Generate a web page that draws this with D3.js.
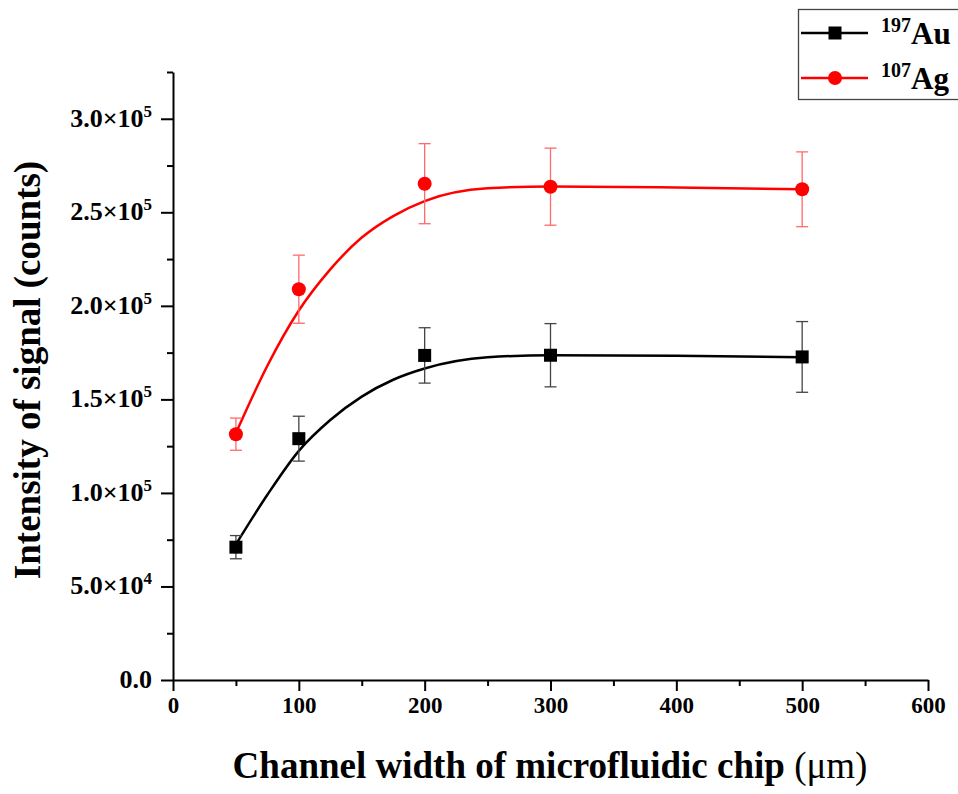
<!DOCTYPE html>
<html>
<head>
<meta charset="utf-8">
<script src="https://cdn.jsdelivr.net/npm/d3@7"></script>
<style>
  body { margin: 0; background: #fff; }
  text { font-family: "Liberation Serif", "Times New Roman", serif; }
</style>
</head>
<body>
<script>
// measured points
const widths = [50, 100, 200, 300, 500];
const auMean = [71000, 129000, 173500, 173600, 172700];
const auErr  = [6200, 12000, 14800, 16900, 18900];
const agMean = [131400, 208900, 265300, 263700, 262300];
const agErr  = [8600, 18200, 21400, 20600, 20000];

// fitted curves
const fitX  = [50, 75, 100, 125, 150, 175, 200, 250, 300, 400, 500];
const auFit = [72500, 99000, 122500, 139000, 151500, 160500, 166500, 172500, 173600, 173300, 172500];
const agFit = [132000, 168000, 197500, 219500, 236500, 248000, 256000, 262800, 263800, 263300, 262300];

const xTicks = [0, 100, 200, 300, 400, 500, 600];
const xMinor = [50, 150, 250, 350, 450, 550];
const yTicks = [0, 50000, 100000, 150000, 200000, 250000, 300000];
const yMinor = [25000, 75000, 125000, 175000, 225000, 275000, 325000];

const width = 958, height = 794;

const svg = d3.select("body")
  .append("svg")
  .attr("xmlns", "http://www.w3.org/2000/svg")
  .attr("width", width)
  .attr("height", height);

const x = d3.scaleLinear().domain([0, 600]).range([173, 928]);
const y = d3.scaleLinear().domain([0, 325000]).range([680, 72]);

// axes
const xAxis = svg.append("g").attr("transform", "translate(0,680)");
xAxis.call(d3.axisBottom(x).tickValues(xTicks).tickSize(11).tickSizeOuter(0).tickPadding(6));
xAxis.append("g").call(d3.axisBottom(x).tickValues(xMinor).tickSize(6).tickFormat(""))
  .select(".domain").remove();

const yAxis = svg.append("g").attr("transform", "translate(173,0)");
yAxis.call(d3.axisLeft(y).tickValues(yTicks).tickSize(12).tickSizeOuter(0).tickFormat(""));
yAxis.append("g").call(d3.axisLeft(y).tickValues(yMinor).tickSize(6).tickFormat(""))
  .select(".domain").remove();

svg.selectAll(".domain").attr("stroke", "#000").attr("stroke-width", 2);
svg.selectAll(".tick line").attr("stroke", "#000").attr("stroke-width", 2);

xAxis.selectAll(".tick text")
  .attr("font-size", 23)
  .attr("font-weight", "bold")
  .attr("fill", "#000")
  .style("font-family", "Liberation Serif");

// y tick labels in a.b×10^n form
const yLab = svg.append("g");
yTicks.forEach(v => {
  const t = yLab.append("text")
    .attr("x", 152)
    .attr("y", y(v) + 8)
    .attr("text-anchor", "end")
    .attr("font-size", 26)
    .attr("font-weight", "bold");
  if (v === 0) { t.text("0.0"); return; }
  const e = Math.floor(Math.log10(v));
  const m = (v / Math.pow(10, e)).toFixed(1);
  t.append("tspan").text(m + "×10");
  t.append("tspan").attr("dy", -10).attr("font-size", 17).text(e);
});

// axis titles
svg.append("text")
  .attr("x", 550).attr("y", 778)
  .attr("text-anchor", "middle")
  .attr("font-size", 37)
  .attr("font-weight", "bold")
  .text("Channel width of microfluidic chip ")
  .append("tspan").attr("font-weight", "normal").text("(μm)");

svg.append("text")
  .attr("transform", "translate(40,370) rotate(-90)")
  .attr("text-anchor", "middle")
  .attr("font-size", 37)
  .attr("font-weight", "bold")
  .text("Intensity of signal (counts)");

// fitted curves
const line = d3.line().x(d => x(d[0])).y(d => y(d[1])).curve(d3.curveMonotoneX);
const series = [
  { name: "Au", mass: "197", mean: auMean, err: auErr, fit: auFit, color: "#000", errColor: "#444", shape: "square" },
  { name: "Ag", mass: "107", mean: agMean, err: agErr, fit: agFit, color: "#ff0000", errColor: "#ff6a6a", shape: "circle" }
];

series.forEach(s => {
  svg.append("path")
    .datum(fitX.map((v, i) => [v, s.fit[i]]))
    .attr("d", line)
    .attr("fill", "none")
    .attr("stroke", s.color)
    .attr("stroke-width", 2.5);

  const pts = widths.map((w, i) => ({ w, m: s.mean[i], e: s.err[i] }));
  const eb = svg.append("g").attr("stroke", s.errColor).attr("stroke-width", 1.3);
  eb.selectAll("line.v").data(pts).join("line")
    .attr("x1", d => x(d.w)).attr("x2", d => x(d.w))
    .attr("y1", d => y(d.m + d.e)).attr("y2", d => y(d.m - d.e));
  eb.selectAll("line.t").data(pts).join("line")
    .attr("x1", d => x(d.w) - 6).attr("x2", d => x(d.w) + 6)
    .attr("y1", d => y(d.m + d.e)).attr("y2", d => y(d.m + d.e));
  eb.selectAll("line.b").data(pts).join("line")
    .attr("x1", d => x(d.w) - 6).attr("x2", d => x(d.w) + 6)
    .attr("y1", d => y(d.m - d.e)).attr("y2", d => y(d.m - d.e));

  if (s.shape === "square") {
    svg.append("g").selectAll("rect").data(pts).join("rect")
      .attr("x", d => x(d.w) - 6.5).attr("y", d => y(d.m) - 6.5)
      .attr("width", 13).attr("height", 13)
      .attr("fill", s.color);
  } else {
    svg.append("g").selectAll("circle").data(pts).join("circle")
      .attr("cx", d => x(d.w)).attr("cy", d => y(d.m))
      .attr("r", 7)
      .attr("fill", s.color);
  }
});

// legend
const legend = svg.append("g");
legend.append("rect")
  .attr("x", 798.5).attr("y", 9.5)
  .attr("width", 200).attr("height", 90)
  .attr("fill", "#fff").attr("stroke", "#444").attr("stroke-width", 1.3);

series.forEach((s, i) => {
  const ly = 33 + i * 45;
  legend.append("line")
    .attr("x1", 801).attr("x2", 868).attr("y1", ly).attr("y2", ly)
    .attr("stroke", s.color).attr("stroke-width", 2.5);
  if (s.shape === "square") {
    legend.append("rect").attr("x", 828.5).attr("y", ly - 6.5).attr("width", 13).attr("height", 13).attr("fill", s.color);
  } else {
    legend.append("circle").attr("cx", 835).attr("cy", ly).attr("r", 7).attr("fill", s.color);
  }
  const t = legend.append("text")
    .attr("x", 881).attr("y", ly + 11)
    .attr("font-weight", "bold")
    .attr("font-size", 31);
  t.append("tspan").attr("font-size", 20).attr("dy", -12).text(s.mass);
  t.append("tspan").attr("dy", 12).text(s.name);
});
</script>
</body>
</html>
